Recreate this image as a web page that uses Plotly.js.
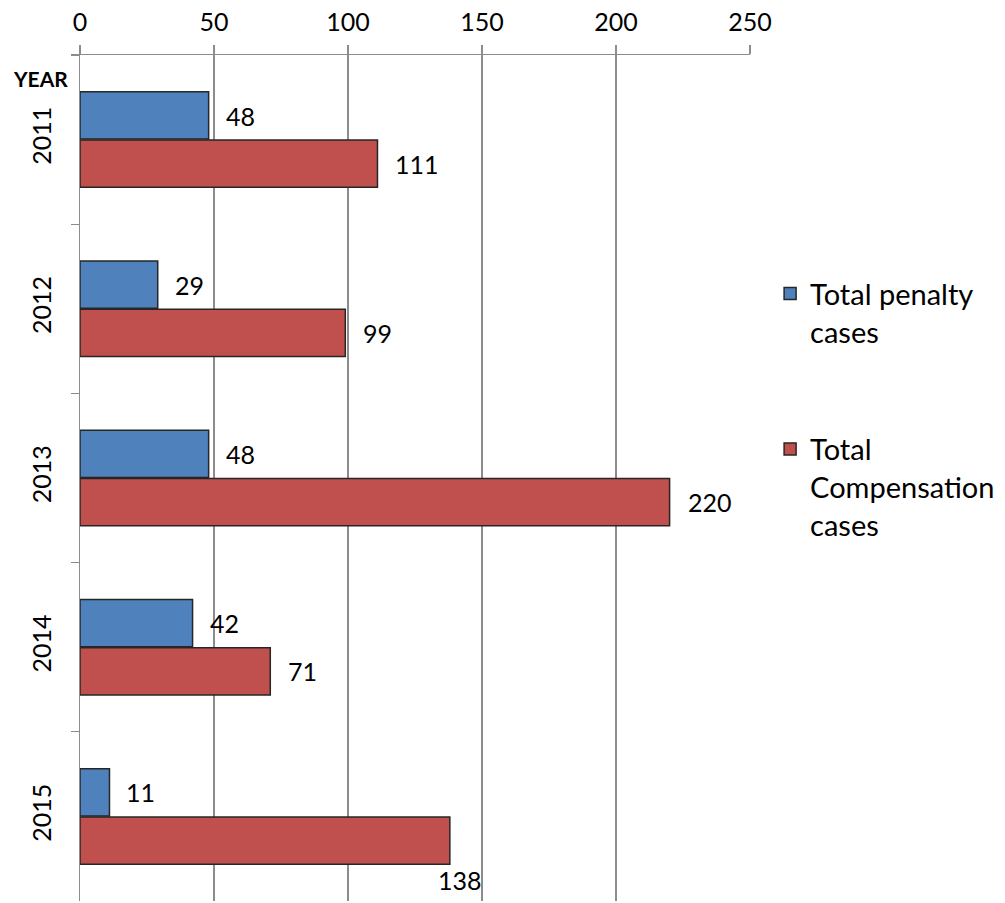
<!DOCTYPE html>
<html>
<head>
<meta charset="utf-8">
<script src="https://cdn.plot.ly/plotly-3.0.1.min.js"></script>
<style>html,body{margin:0;padding:0;background:#fff;}#chart{width:1005px;height:903px;}</style>
</head>
<body>
<div id="chart"></div>
<script>
const years = ["2011", "2012", "2013", "2014", "2015"];
const penaltyCases = [48, 29, 48, 42, 11];
const compensationCases = [111, 99, 220, 71, 138];
const seriesNames = ["Total penalty<br>cases", "Total<br>Compensation<br>cases"];
const xTicks = [0, 50, 100, 150, 200, 250];

const FONT = "Lato, 'Liberation Sans', sans-serif";
const traces = [
  {type: "bar", orientation: "h", name: seriesNames[0], y: years, x: penaltyCases,
   marker: {color: "#4F81BD", line: {color: "#262626", width: 1.5}}, legendgroup: "a", hoverinfo: "x"},
  {type: "bar", orientation: "h", name: seriesNames[1], y: years, x: compensationCases,
   marker: {color: "#C0504D", line: {color: "#262626", width: 1.5}}, legendgroup: "b", hoverinfo: "x"}
];

const annotations = [];
penaltyCases.forEach((v, i) => annotations.push({
  x: v, y: i, xref: "x", yref: "y", text: String(v), showarrow: false,
  xanchor: "left", yanchor: "middle", xshift: 15, yshift: 24, font: {size: 25, color: "#000", family: FONT}
}));
compensationCases.forEach((v, i) => {
  const last = i === years.length - 1;
  annotations.push({
    x: v, y: i, xref: "x", yref: "y", text: String(v), showarrow: false,
    xanchor: last ? "center" : "left", yanchor: "middle",
    xshift: last ? 10 : 16, yshift: last ? -64 : -24,
    font: {size: 25, color: "#000", family: FONT}
  });
});
annotations.push({x: 0, y: 1, xref: "paper", yref: "paper", text: "<b>YEAR</b>", showarrow: false,
  xanchor: "center", yanchor: "middle", xshift: -40, yshift: -23, font: {size: 21, color: "#000", family: FONT}});

const layout = {
  width: 1005, height: 903,
  margin: {l: 80, r: 255, t: 55, b: 2},
  paper_bgcolor: "#fff", plot_bgcolor: "#fff",
  font: {family: FONT, color: "#000"},
  barmode: "group", bargap: 0.43, bargroupgap: 0.02,
  showlegend: true,
  legend: {x: 1.03, xanchor: "left", y: 0.748, yanchor: "top", font: {size: 29, family: FONT, color: "#000"},
    tracegroupgap: 77, traceorder: "grouped", valign: "top", itemwidth: 30},
  xaxis: {side: "top", range: [0, 250], tickvals: xTicks, ticktext: xTicks.map(String),
    showgrid: true, gridcolor: "#8c8c8c", gridwidth: 1.3, showline: true, linecolor: "#8c8c8c", linewidth: 1.3,
    ticks: "outside", ticklen: 9, tickcolor: "#8c8c8c", tickwidth: 1.3, zeroline: false, ticklabelstandoff: 4,
    tickfont: {size: 25, family: FONT, color: "#000"}, fixedrange: true},
  yaxis: {type: "category", categoryorder: "array", categoryarray: years, range: [4.5, -0.5],
    tickson: "boundaries", ticks: "outside", ticklen: 8, tickcolor: "#8c8c8c", tickwidth: 1.3,
    showline: true, linecolor: "#8c8c8c", linewidth: 1.3, showgrid: false, zeroline: false, ticklabelstandoff: 18,
    tickangle: -90, tickfont: {size: 25, family: FONT, color: "#000"}, fixedrange: true},
  annotations: annotations
};

Plotly.newPlot("chart", traces, layout, {displayModeBar: false, staticPlot: true});
</script>
</body>
</html>
